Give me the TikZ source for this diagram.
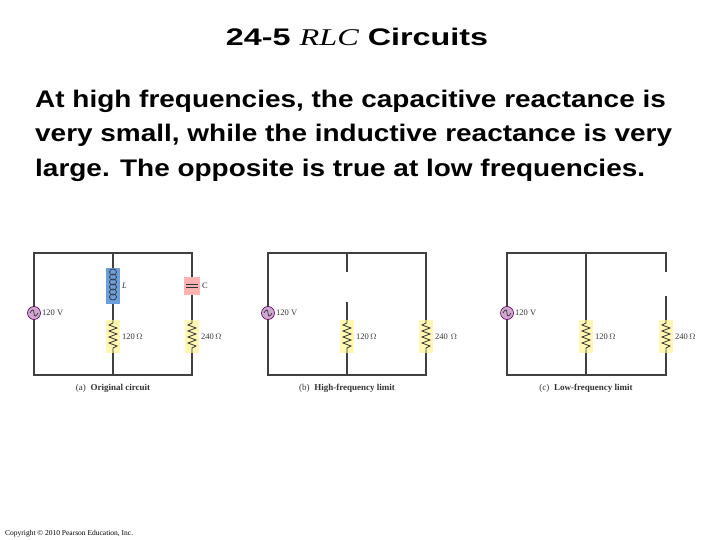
\documentclass[tikz,border=0pt]{standalone}
\usepackage{fontspec}
\usepackage{graphicx}
\setmainfont{Liberation Sans}
\newfontfamily\tms{Liberation Serif}
\begin{document}
\begin{tikzpicture}[x=1pt,y=-1pt,
  wire/.style={draw=black!75,line width=1.1pt},
  lab/.style={font=\tms\fontsize{8.5}{9}\selectfont,text=black!80,inner sep=1pt},
  captxt/.style={font=\tms\fontsize{9}{10}\selectfont,text=black!80}]
\useasboundingbox (0,0) rectangle (720,540);
\node (title) at (357,37) {\resizebox{262pt}{\height}{\fontsize{24}{28}\selectfont\bfseries 24-5 {\tms\itshape\mdseries RLC} Circuits}};
\node[anchor=north west,inner sep=0pt] (body) at (35,83)
 {\resizebox{637pt}{\height}{\fontsize{24}{34.5}\selectfont\bfseries\begin{tabular}{@{}l@{}}At high frequencies, the capacitive reactance is\\ very small, while the inductive reactance is very\\ large. The opposite is true at low frequencies.\end{tabular}}};
\node[anchor=south west,inner sep=0pt,font=\tms\fontsize{7.5}{9}\selectfont] (copy) at (5,537) {Copyright \textcopyright{} 2010 Pearson Education, Inc.};
\newcommand{\myres}[2]{%
  \fill[orange!20!yellow!30] (#1-7,320) rectangle (#1+7,353);
  \draw[black!80,line width=0.8pt] (#1,320) -- (#1,323)
    -- (#1-4,325) -- (#1+4,328) -- (#1-4,331) -- (#1+4,334) -- (#1-4,337) -- (#1+4,340) -- (#1-4,343) -- (#1+4,346) -- (#1,348) -- (#1,353);
  \node[lab,anchor=west] at (#1+8,337) {#2};}
\newcommand{\mysrc}[1]{%
  \fill[violet!35] (#1,313) circle (6.5);
  \draw[violet!70!black,line width=0.6pt] (#1,313) circle (6.5);
  \draw[black!80,line width=0.7pt] (#1-4,313) .. controls (#1-2,309) and (#1,309) .. (#1,313) .. controls (#1,317) and (#1+2,317) .. (#1+4,313);
  \node[lab,anchor=west] at (#1+7,313) {120 V};}
% (a)
\draw[wire] (34,307) -- (34,253) -- (192,253) -- (192,375) -- (34,375) -- (34,319);
\draw[wire] (113,253) -- (113,375);
\fill[cyan!55!blue!60] (106,268) rectangle (120,304);
\foreach \k in {0,...,5}
  \draw[black!80,line width=0.7pt] (113,{272+5*\k}) ellipse (3.5 and 3);
\node[lab,anchor=west,font=\tms\itshape\fontsize{8.5}{9}\selectfont] at (121,286) {L};
\fill[red!30] (184,277) rectangle (200,295);
\draw[black!80,line width=0.8pt] (186,284.5) -- (198,284.5) (186,287.5) -- (198,287.5);
\node[lab,anchor=west] at (201,286) {C};
\mysrc{34}
\myres{113}{120\,$\Omega$}
\myres{192}{240\,$\Omega$}
\node[captxt] at (113,388) {(a)\; \textbf{Original circuit}};
% (b)
\draw[wire] (268,307) -- (268,253) -- (426,253) -- (426,375) -- (268,375) -- (268,319);
\draw[wire] (347,253) -- (347,272);
\draw[wire] (347,302) -- (347,375);
\mysrc{268}
\myres{347}{120\,$\Omega$}
\myres{426}{240\,\,$\Omega$}
\node[captxt] at (347,388) {(b)\; \textbf{High-frequency limit}};
% (c)
\draw[wire] (507,307) -- (507,253) -- (666,253) -- (666,272);
\draw[wire] (666,296) -- (666,375) -- (507,375) -- (507,319);
\draw[wire] (586,253) -- (586,375);
\mysrc{507}
\myres{586}{120\,$\Omega$}
\myres{666}{240\,$\Omega$}
\node[captxt] at (586,388) {(c)\; \textbf{Low-frequency limit}};
\end{tikzpicture}
\end{document}
